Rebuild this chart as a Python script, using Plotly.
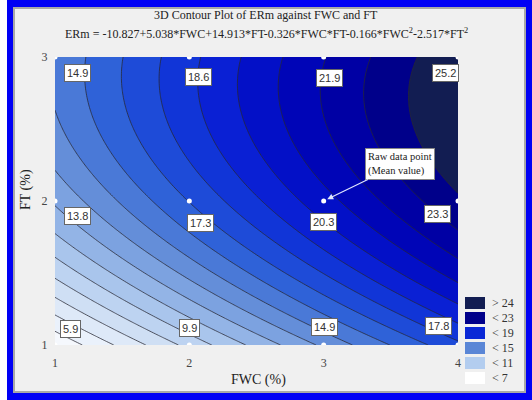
import numpy as np
import plotly.graph_objects as go

# Regression model ERm(FWC, FT): intercept, FWC, FT, FWC*FT, FWC^2, FT^2
coefs = [-10.827, 5.038, 14.913, -0.326, -0.166, -2.517]

# Experimental design levels and measured mean ERm values (rows = FT levels)
fwc_levels = [1, 2, 3, 4]
ft_levels = [1, 2, 3]
raw_means = [
    [5.9, 9.9, 14.9, 17.8],
    [13.8, 17.3, 20.3, 23.3],
    [14.9, 18.6, 21.9, 25.2],
]

legend_labels = ["> 24", "< 23", "< 19", "< 15", "< 11", "< 7"]
legend_colors = ["#121d52", "#00008a", "#0a28d6", "#5a86d6", "#b3cdef", "#ffffff"]

# Response surface evaluated from the fitted model
fwc = np.linspace(1, 4, 181)
ft = np.linspace(1, 3, 121)
X, Y = np.meshgrid(fwc, ft)
c0, c1, c2, c3, c4, c5 = coefs
Z = c0 + c1 * X + c2 * Y + c3 * X * Y + c4 * X ** 2 + c5 * Y ** 2

# Figure geometry in pixels
W, H = 532, 400
L, R, T, B = 55, 458, 57, 345


def px(x):
    return (x - L) / (R - L)


def py(y):
    return (B - y) / (B - T)


# Colour ramp anchored on band mid-values
start, end, size = 6, 24, 1
anchors = [
    (5.5, "#ffffff"), (7, "#f0f5fc"), (9, "#d8e5f6"), (11, "#b4cdef"),
    (13, "#88ace3"), (15, "#5884d6"), (16.5, "#2f62d8"), (18, "#1540d8"),
    (19.5, "#0a20d4"), (21, "#0008c0"), (22.5, "#0000a4"), (23.5, "#00008a"),
    (24.5, "#121d52"),
]
lo = start - size / 2
hi = end + size / 2
colorscale = [[(v - lo) / (hi - lo), c] for v, c in anchors]

serif = "Liberation Serif"
sans = "Liberation Sans"

fig = go.Figure()
fig.add_trace(go.Contour(
    x=fwc, y=ft, z=Z,
    autocontour=False,
    contours=dict(start=start, end=end, size=size, coloring="fill"),
    colorscale=colorscale,
    line=dict(color="rgba(40,40,50,0.85)", width=0.9, smoothing=1),
    showscale=False,
    hoverinfo="skip",
))

# Raw data points
pts_x = [f for _ in ft_levels for f in fwc_levels]
pts_y = [t for t in ft_levels for _ in fwc_levels]
fig.add_trace(go.Scatter(
    x=pts_x, y=pts_y, mode="markers",
    marker=dict(color="white", size=5, line=dict(width=0)),
    hoverinfo="skip", showlegend=False,
))

annotations = []
# Label offsets (pixels, right / down) for each design point
offsets = {
    (1, 3): (22, 16), (2, 3): (9, 20), (3, 3): (6, 21), (4, 3): (-13, 16),
    (1, 2): (22, 15), (2, 2): (11, 22), (3, 2): (0, 21), (4, 2): (-21, 13),
    (1, 1): (15, -16), (2, 1): (0, -17), (3, 1): (1, -18), (4, 1): (-20, -19),
}
for j, t in enumerate(ft_levels):
    for i, f in enumerate(fwc_levels):
        dx, dy = offsets[(f, t)]
        annotations.append(dict(
            x=f, y=t, xref="x", yref="y", text=f"{raw_means[j][i]:.1f}",
            showarrow=False, xshift=dx, yshift=-dy,
            font=dict(family=sans, size=11, color="#333333"),
            bgcolor="white", bordercolor="#666666", borderwidth=1, borderpad=2,
        ))

# Call-out for the raw data point
annotations.append(dict(
    x=3, y=2, xref="x", yref="y",
    text="Raw data point<br>(Mean value)", align="left",
    showarrow=True, ax=76, ay=-37, arrowhead=2, arrowsize=1, arrowwidth=1.2,
    arrowcolor="#dfe6ff", standoff=4,
    font=dict(family=serif, size=10.5, color="#222222"),
    bgcolor="white", bordercolor="#888888", borderwidth=1, borderpad=2,
))


def paper_text(text, x, y, size, **kw):
    d = dict(x=px(x), y=py(y), xref="paper", yref="paper", text=text,
             showarrow=False, xanchor="center", yanchor="middle",
             font=dict(family=serif, size=size, color="#222222"))
    d.update(kw)
    return d


# Titles and axis titles
annotations.append(paper_text("3D Contour Plot of ERm against FWC and FT", 266, 15, 12))
annotations.append(paper_text(
    "ERm = -10.827+5.038*FWC+14.913*FT-0.326*FWC*FT-0.166*FWC<sup>2</sup>-2.517*FT<sup>2</sup>",
    266, 33, 12))
annotations.append(paper_text("FWC (%)", 258, 380, 14))
annotations.append(paper_text("FT (%)", 26, 190, 14, textangle=-90))

shapes = [
    dict(type="rect", xref="paper", yref="paper", layer="below",
         x0=px(7), x1=px(532), y0=py(400), y1=py(0),
         fillcolor="#0000f5", line=dict(width=0)),
    dict(type="rect", xref="paper", yref="paper", layer="below",
         x0=px(14), x1=px(525), y0=py(392), y1=py(8),
         fillcolor="#f0f0f0", line=dict(color="#a8a8a8", width=2)),
]

# Legend swatches
for k, (lab, col) in enumerate(zip(legend_labels, legend_colors)):
    cy = 303 + 15 * k
    shapes.append(dict(
        type="rect", xref="paper", yref="paper", layer="above",
        x0=px(465), x1=px(485), y0=py(cy + 6), y1=py(cy - 6),
        fillcolor=col, line=dict(width=0),
    ))
    annotations.append(paper_text(lab, 490, cy, 12, xanchor="left",
                                  font=dict(family=serif, size=12, color="#333333")))

fig.update_layout(
    width=W, height=H,
    margin=dict(l=L, r=W - R, t=T, b=H - B, pad=0),
    paper_bgcolor="white", plot_bgcolor="#f0f0f0",
    showlegend=False,
    shapes=shapes, annotations=annotations,
    xaxis=dict(range=[1, 4], tickvals=fwc_levels, showgrid=False, zeroline=False,
               ticks="outside", ticklen=7, tickcolor="rgba(0,0,0,0)",
               tickfont=dict(family=serif, size=12, color="#444444")),
    yaxis=dict(range=[1, 3], tickvals=ft_levels, showgrid=False, zeroline=False,
               ticks="outside", ticklen=4, tickcolor="rgba(0,0,0,0)",
               tickfont=dict(family=serif, size=12, color="#444444")),
)

fig.write_html("out.html")
